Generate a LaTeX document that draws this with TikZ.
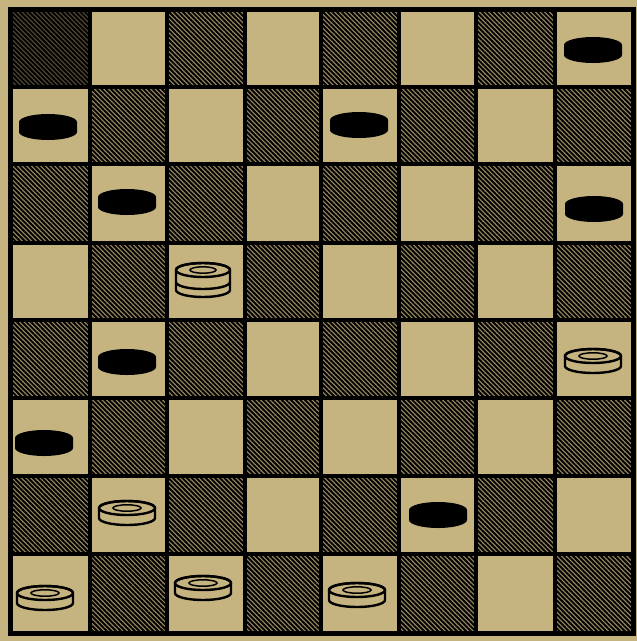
\documentclass[tikz,border=0pt]{standalone}
\usetikzlibrary{patterns.meta}
\definecolor{tan}{RGB}{198,180,128}
\definecolor{darktan}{RGB}{150,135,95}
\tikzset{
  hatch/.style={pattern={Lines[angle=-45,distance=3.3pt,line width=1.9pt]},pattern color=black},
  gridline/.style={line width=3.8pt,line cap=rect},
  piecepath/.style={line width=2.4pt,line join=round},
  bpiece/.pic={
    \fill[black] (-29,-5) -- (-29,5) arc[start angle=180,end angle=0,x radius=29,y radius=8]
      -- (29,-5) arc[start angle=0,end angle=-180,x radius=29,y radius=8] -- cycle;
  },
  wpiece/.pic={
    \filldraw[piecepath,fill=tan] (-28,-5) -- (-28,5) arc[start angle=180,end angle=0,x radius=28,y radius=7]
      -- (28,-5) arc[start angle=0,end angle=-180,x radius=28,y radius=7] -- cycle;
    \draw[piecepath] (0,-5) ellipse[x radius=28,y radius=7];
    \draw[line width=1.5pt] (0,-5) ellipse[x radius=14,y radius=3.2];
  },
  wking/.pic={
    \filldraw[piecepath,fill=tan] (-27,-10) -- (-27,10) arc[start angle=180,end angle=0,x radius=27,y radius=7]
      -- (27,-10) arc[start angle=0,end angle=-180,x radius=27,y radius=7] -- cycle;
    \draw[piecepath] (-27,2) arc[start angle=180,end angle=0,x radius=27,y radius=7];
    \draw[piecepath] (0,-10) ellipse[x radius=27,y radius=7];
    \draw[line width=1.5pt] (0,-10) ellipse[x radius=13,y radius=3.2];
  }
}
\begin{document}
\begin{tikzpicture}[x=1pt,y=-1pt]
\useasboundingbox (0,0) rectangle (637,641);
\fill[tan] (0,0) rectangle (637,641);
\def\xs{{10,90,167,245,321,399,476,555,633}}
\def\ys{{9,87,164,243,320,398,476,554,633}}
\foreach \i in {0,...,7}{
  \foreach \j in {0,...,7}{
    \pgfmathtruncatemacro\sqpar{mod(\i+\j,2)}
    \ifnum\sqpar=0
      \pgfmathsetmacro\xa{\xs[\i]}
      \pgfmathsetmacro\xb{\xs[\i+1]}
      \pgfmathsetmacro\ya{\ys[\j]}
      \pgfmathsetmacro\yb{\ys[\j+1]}
      \fill[darktan] (\xa,\ya) rectangle (\xb,\yb);
      \fill[hatch] (\xa,\ya) rectangle (\xb,\yb);
    \fi
  }
}
\fill[black,opacity=0.45] (10,9) rectangle (90,87);
\foreach \i in {1,...,7}{
  \pgfmathsetmacro\xa{\xs[\i]}
  \pgfmathsetmacro\ya{\ys[\i]}
  \draw[gridline] (\xa,9) -- (\xa,633);
  \draw[gridline] (10,\ya) -- (633,\ya);
}
\draw[line width=5pt] (10,9) rectangle (633,633);
% black pieces
\pic at (593,50) {bpiece};
\pic at (48,127) {bpiece};
\pic at (359,125) {bpiece};
\pic at (127,202) {bpiece};
\pic at (594,209) {bpiece};
\pic at (127,362) {bpiece};
\pic at (44,443) {bpiece};
\pic at (438,515) {bpiece};
% white pieces
\pic at (203,280) {wking};
\pic at (593,361) {wpiece};
\pic at (127,513) {wpiece};
\pic at (45,598) {wpiece};
\pic at (203,588) {wpiece};
\pic at (357,595) {wpiece};
\end{tikzpicture}
\end{document}
